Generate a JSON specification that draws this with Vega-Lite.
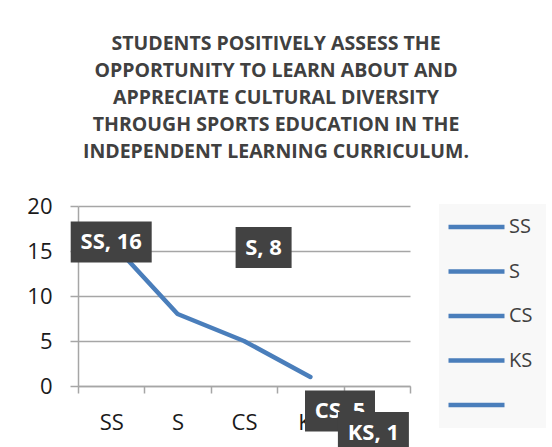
{
  "$schema": "https://vega.github.io/schema/vega-lite/v6.json",
  "autosize": {"type": "none"},
  "padding": {"left": 78, "top": 206, "right": 142, "bottom": 61},
  "width": 332,
  "height": 180,
  "background": "white",
  "config": {"view": {"stroke": null}, "font": "Open Sans"},
  "title": {
    "text": ["STUDENTS POSITIVELY ASSESS THE", "OPPORTUNITY TO LEARN ABOUT AND", "APPRECIATE CULTURAL DIVERSITY", "THROUGH SPORTS EDUCATION IN THE", "INDEPENDENT LEARNING CURRICULUM."],
    "font": "Open Sans",
    "fontSize": 19.5,
    "fontWeight": "bold",
    "color": "#404040",
    "lineHeight": 27,
    "anchor": "middle",
    "dx": 32,
    "offset": 33
  },
  "data": {"values": [
    {"cat": "SS", "value": 16},
    {"cat": "S", "value": 8},
    {"cat": "CS", "value": 5},
    {"cat": "KS", "value": 1}
  ]},
  "transform": [{"calculate": "datum.cat + ', ' + datum.value", "as": "label"}],
  "encoding": {
    "x": {
      "field": "cat", "type": "nominal",
      "scale": {"type": "band", "domain": ["SS", "S", "CS", "KS", " "], "paddingInner": 0, "paddingOuter": 0},
      "axis": {"title": null, "tickBand": "extent", "labelAngle": 0, "grid": false,
        "domainColor": "#a6a6a6", "domainWidth": 1.5, "tickColor": "#a6a6a6", "tickWidth": 1.5, "tickSize": 7,
        "labelFontSize": 22, "labelColor": "#1a1a1a", "labelPadding": 19, "labelFont": "Open Sans"}
    },
    "y": {
      "field": "value", "type": "quantitative",
      "scale": {"domain": [0, 20], "nice": false},
      "axis": {"title": null, "values": [0, 5, 10, 15, 20], "grid": true, "gridColor": "#a6a6a6", "gridWidth": 1.5,
        "domainColor": "#a6a6a6", "domainWidth": 1.5, "tickColor": "#a6a6a6", "tickWidth": 1.5, "tickSize": 8,
        "labelFontSize": 22, "labelColor": "#1a1a1a", "labelPadding": 18, "labelFont": "Open Sans"}
    }
  },
  "layer": [
    {
      "mark": {"type": "line", "color": "#4a7ebb", "strokeWidth": 4.5, "strokeCap": "round", "strokeJoin": "round"}
    },
    {
      "mark": {"type": "line", "strokeWidth": 4.5, "strokeCap": "butt"},
      "encoding": {
        "stroke": {
          "field": "cat", "type": "nominal",
          "scale": {"domain": ["SS", "S", "CS", "KS", " "], "range": ["#4a7ebb", "#4a7ebb", "#4a7ebb", "#4a7ebb", "#4a7ebb"]},
          "legend": {"title": null, "orient": "none", "legendX": 361, "legendY": -2,
            "symbolType": "M-13.5,0H42.5", "symbolSize": 4, "symbolStrokeWidth": 4.5, "symbolStrokeColor": "#4a7ebb",
            "labelFontSize": 20, "labelColor": "#404040", "labelFont": "Open Sans", "labelOffset": 37,
            "rowPadding": 24.5, "fillColor": "#f8f8f8", "padding": 13}
        }
      }
    },
    {
      "transform": [{"filter": "datum.cat == 'SS'"}],
      "mark": {"type": "point", "shape": "M-40.5,-20.5H40.5V20.5H-40.5Z", "size": 4, "filled": true, "color": "#424242", "opacity": 1, "strokeWidth": 0, "xOffset": 0, "yOffset": 0}
    },
    {
      "transform": [{"filter": "datum.cat == 'SS'"}],
      "mark": {"type": "text", "align": "center", "baseline": "middle", "fontSize": 22, "fontWeight": "bold", "color": "white", "font": "Open Sans", "xOffset": 0, "yOffset": 0},
      "encoding": {"text": {"field": "label"}}
    },
    {
      "transform": [{"filter": "datum.cat == 'S'"}],
      "mark": {"type": "point", "shape": "M-28,-20.5H28V20.5H-28Z", "size": 4, "filled": true, "color": "#424242", "opacity": 1, "strokeWidth": 0, "xOffset": 86, "yOffset": -66.5}
    },
    {
      "transform": [{"filter": "datum.cat == 'S'"}],
      "mark": {"type": "text", "align": "center", "baseline": "middle", "fontSize": 22, "fontWeight": "bold", "color": "white", "font": "Open Sans", "xOffset": 86, "yOffset": -66.5},
      "encoding": {"text": {"field": "label"}}
    },
    {
      "transform": [{"filter": "datum.cat == 'CS'"}],
      "mark": {"type": "point", "shape": "M-35,-20.5H35V20.5H-35Z", "size": 4, "filled": true, "color": "#424242", "opacity": 1, "strokeWidth": 0, "xOffset": 96, "yOffset": 70}
    },
    {
      "transform": [{"filter": "datum.cat == 'CS'"}],
      "mark": {"type": "text", "align": "center", "baseline": "middle", "fontSize": 22, "fontWeight": "bold", "color": "white", "font": "Open Sans", "xOffset": 96, "yOffset": 70},
      "encoding": {"text": {"field": "label"}}
    },
    {
      "transform": [{"filter": "datum.cat == 'KS'"}],
      "mark": {"type": "point", "shape": "M-35.5,-20.5H35.5V20.5H-35.5Z", "size": 4, "filled": true, "color": "#424242", "opacity": 1, "strokeWidth": 0, "xOffset": 63, "yOffset": 55.5}
    },
    {
      "transform": [{"filter": "datum.cat == 'KS'"}],
      "mark": {"type": "text", "align": "center", "baseline": "middle", "fontSize": 22, "fontWeight": "bold", "color": "white", "font": "Open Sans", "xOffset": 63, "yOffset": 55.5},
      "encoding": {"text": {"field": "label"}}
    }
  ]
}
